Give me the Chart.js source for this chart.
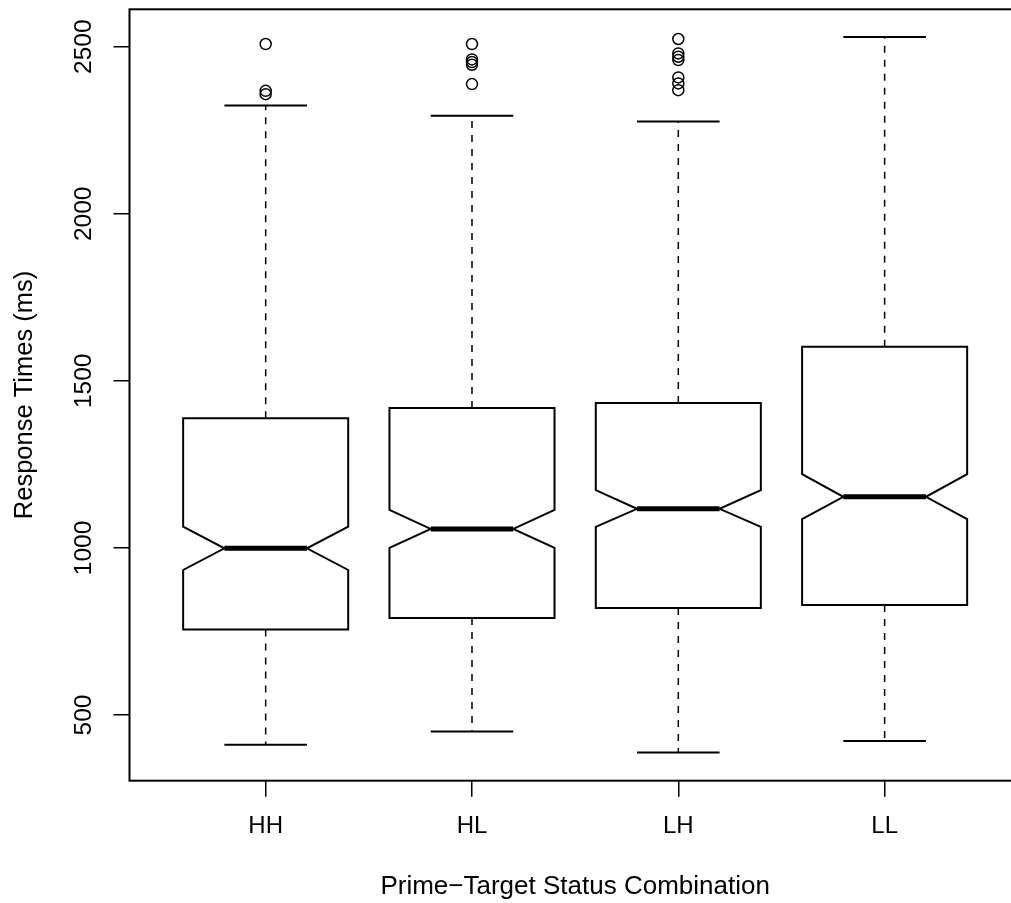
<!DOCTYPE html>
<html><head><meta charset="utf-8">
<script src="https://cdn.jsdelivr.net/npm/chart.js@4.4.1/dist/chart.umd.min.js"></script>
<style>html,body{margin:0;padding:0;background:#fff;overflow:hidden;} #wrap{width:1040px;height:903px;}</style>
</head><body><div id="wrap"><canvas id="c" width="1040" height="903"></canvas></div>
<script>
const categories = ['HH', 'HL', 'LH', 'LL'];
const whiskerLow = [411, 451, 388, 422];
const q1 = [756, 790, 820, 829];
const notchLow = [934, 1000, 1063, 1086];
const median = [999, 1057, 1117, 1153];
const notchHigh = [1064, 1114, 1173, 1221];
const q3 = [1388, 1419, 1434, 1602];
const whiskerHigh = [2324, 2293, 2276, 2529];
const outliersHH = [2508, 2368, 2358];
const outliersHL = [2508, 2462, 2454, 2446, 2388];
const outliersLH = [2523, 2480, 2470, 2460, 2408, 2390, 2370];
const outliersLL = [];
const yTicks = [500, 1000, 1500, 2000, 2500];
const yTitle = 'Response Times (ms)';
const xTitle = 'Prime\u2212Target Status Combination';

const FONT = "'Liberation Sans', Arial, Helvetica, sans-serif";
Chart.defaults.font.family = FONT;
Chart.defaults.color = '#000';

const outlierPoints = [];
[outliersHH, outliersHL, outliersLH, outliersLL].forEach((arr, i) =>
  arr.forEach(v => outlierPoints.push({x: i + 1, y: v})));

const boxPlugin = {
  id: 'notchedBoxes',
  beforeDatasetsDraw(chart) {
    const {ctx, scales: {x, y}} = chart;
    const boxHalf = 0.4, notchHalf = 0.2, stapleHalf = 0.2;
    const px = v => x.getPixelForValue(v);
    const py = v => y.getPixelForValue(v);
    ctx.save();
    ctx.strokeStyle = '#000';
    categories.forEach((c, i) => {
      const cx = i + 1;
      ctx.lineWidth = 1.5;
      ctx.setLineDash([7, 7]);
      ctx.beginPath();
      ctx.moveTo(px(cx), py(q3[i])); ctx.lineTo(px(cx), py(whiskerHigh[i]));
      ctx.moveTo(px(cx), py(q1[i])); ctx.lineTo(px(cx), py(whiskerLow[i]));
      ctx.stroke();
      ctx.setLineDash([]);
      ctx.lineWidth = 2;
      ctx.beginPath();
      ctx.moveTo(px(cx - stapleHalf), py(whiskerHigh[i])); ctx.lineTo(px(cx + stapleHalf), py(whiskerHigh[i]));
      ctx.moveTo(px(cx - stapleHalf), py(whiskerLow[i])); ctx.lineTo(px(cx + stapleHalf), py(whiskerLow[i]));
      ctx.stroke();
      ctx.lineJoin = 'miter';
      ctx.beginPath();
      ctx.moveTo(px(cx - boxHalf), py(q1[i]));
      ctx.lineTo(px(cx - boxHalf), py(notchLow[i]));
      ctx.lineTo(px(cx - notchHalf), py(median[i]));
      ctx.lineTo(px(cx - boxHalf), py(notchHigh[i]));
      ctx.lineTo(px(cx - boxHalf), py(q3[i]));
      ctx.lineTo(px(cx + boxHalf), py(q3[i]));
      ctx.lineTo(px(cx + boxHalf), py(notchHigh[i]));
      ctx.lineTo(px(cx + notchHalf), py(median[i]));
      ctx.lineTo(px(cx + boxHalf), py(notchLow[i]));
      ctx.lineTo(px(cx + boxHalf), py(q1[i]));
      ctx.closePath();
      ctx.stroke();
      ctx.lineWidth = 5;
      ctx.lineCap = 'butt';
      ctx.beginPath();
      ctx.moveTo(px(cx - notchHalf), py(median[i])); ctx.lineTo(px(cx + notchHalf), py(median[i]));
      ctx.stroke();
    });
    const a = chart.chartArea;
    ctx.lineWidth = 2;
    ctx.strokeRect(a.left, a.top, a.right - a.left, a.bottom - a.top);
    ctx.restore();
  }
};

new Chart(document.getElementById('c'), {
  type: 'scatter',
  data: {
    datasets: [{
      label: 'Outliers',
      data: outlierPoints,
      pointStyle: 'circle',
      pointRadius: 5.5,
      pointBorderWidth: 1.5,
      borderColor: '#000',
      backgroundColor: 'rgba(0,0,0,0)',
      pointBackgroundColor: 'rgba(0,0,0,0)'
    }]
  },
  options: {
    responsive: false,
    animation: false,
    devicePixelRatio: 1,
    layout: {padding: {top: 9.3, right: 19.2, bottom: 0, left: 0}},
    plugins: {legend: {display: false}, tooltip: {enabled: false}},
    scales: {
      x: {
        type: 'linear', min: 0.34, max: 4.66,
        afterBuildTicks: s => { s.ticks = categories.map((c, i) => ({value: i + 1})); },
        afterFit: s => { s.height = 122.3; s.paddingLeft = 0; s.paddingRight = 0; },
        ticks: {
          callback: v => categories[Math.round(v) - 1] || '',
          font: {size: 24}, color: '#000', padding: 15, maxRotation: 0, minRotation: 0, autoSkip: false
        },
        grid: {drawOnChartArea: false, drawTicks: true, tickLength: 16, color: '#000', lineWidth: 1.5},
        border: {display: false},
        title: {display: true, text: xTitle, font: {size: 26}, color: '#000', padding: {top: 0, bottom: 0.5}}
      },
      y: {
        type: 'linear', min: 303.4, max: 2611.9,
        afterBuildTicks: s => { s.ticks = yTicks.map(v => ({value: v})); },
        afterFit: s => { s.width = 129.5; s.paddingTop = 0; s.paddingBottom = 0; },
        ticks: {
          font: {size: 24.5}, color: '#000', padding: 2, minRotation: 90, maxRotation: 90,
          crossAlign: 'center', autoSkip: false, callback: v => String(v)
        },
        grid: {drawOnChartArea: false, drawTicks: true, tickLength: 16, color: '#000', lineWidth: 1.5},
        border: {display: false},
        title: {display: true, text: yTitle, font: {size: 25.5}, color: '#000', padding: {top: 9.7, bottom: 0}}
      }
    }
  },
  plugins: [boxPlugin]
});
</script>
</body></html>
